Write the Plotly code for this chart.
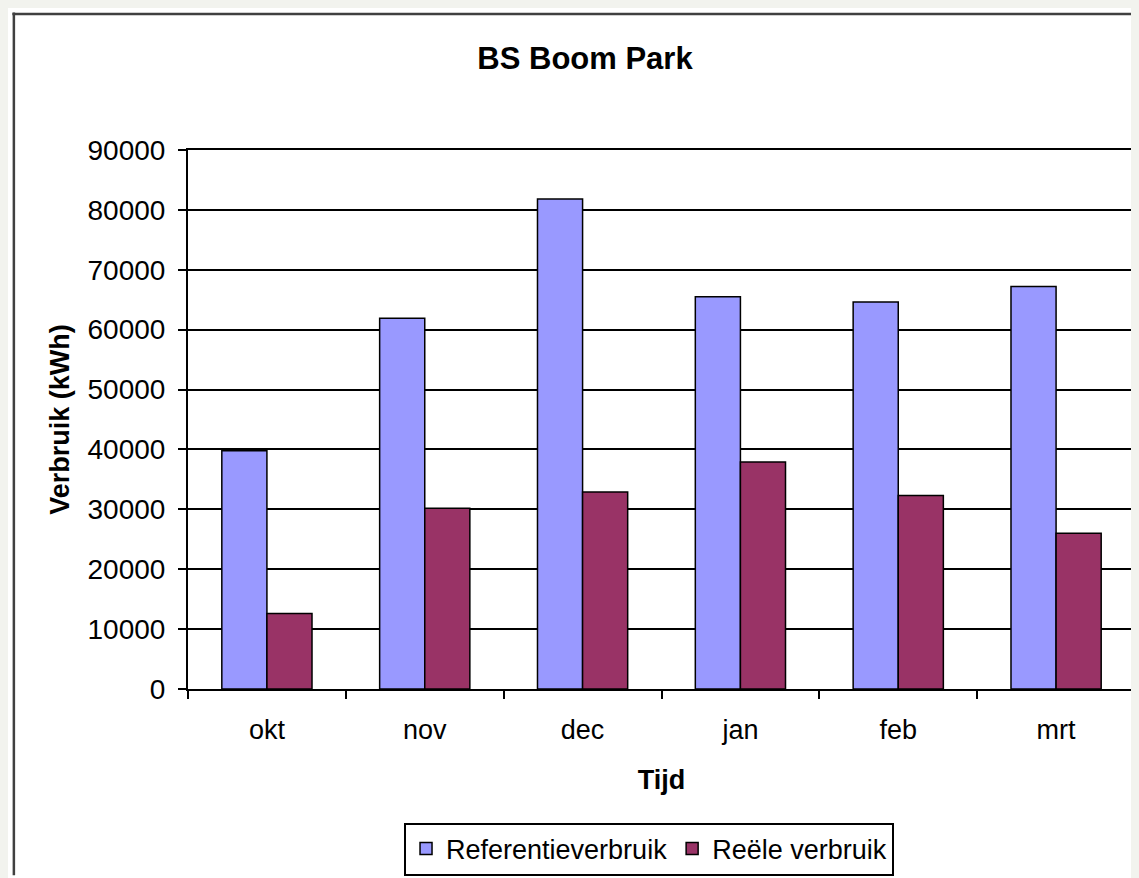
import plotly.graph_objects as go

# ---- data ----
months = ["okt", "nov", "dec", "jan", "feb", "mrt"]
referentie = [39800, 61900, 81800, 65500, 64600, 67200]
reeel = [12600, 30200, 32900, 37900, 32300, 26000]
series_names = ["Referentieverbruik", "Reële verbruik"]
y_ticks = [0, 10000, 20000, 30000, 40000, 50000, 60000, 70000, 80000, 90000]

# ---- layout geometry (page pixels; the page body adds an 8px margin) ----
OFF = 8
W, H = 1139 - OFF, 878 - OFF
L, R, T, B = 188 - OFF, 1137 - OFF, 150 - OFF, 691 - OFF
FONT = "Liberation Sans, Arial, sans-serif"


def px_x(page_px):
    return (page_px - OFF - L) / (R - L)


def px_y(page_py):
    return (B - (page_py - OFF)) / (B - T)


fig = go.Figure()
fig.add_trace(go.Bar(x=months, y=referentie, name=series_names[0],
                     marker=dict(color="#9999FF", line=dict(color="#000000", width=1.5))))
fig.add_trace(go.Bar(x=months, y=reeel, name=series_names[1],
                     marker=dict(color="#993366", line=dict(color="#000000", width=1.5))))

shapes = [
    # chart area frame
    dict(type="line", xref="paper", yref="paper", x0=px_x(12), x1=px_x(1139), y0=px_y(13.5), y1=px_y(13.5),
         line=dict(color="#404040", width=2.5)),
    dict(type="line", xref="paper", yref="paper", x0=px_x(13.5), x1=px_x(13.5), y0=px_y(12), y1=px_y(878),
         line=dict(color="#404040", width=2.5)),
]

fig.update_layout(
    width=W, height=H,
    margin=dict(l=L, r=W - R, t=T, b=H - B, pad=0),
    paper_bgcolor="#ffffff", plot_bgcolor="#ffffff",
    font=dict(family=FONT, size=27, color="#000000"),
    barmode="group", bargap=1.5 / 3.5, bargroupgap=0,
    title=dict(text="<b>BS Boom Park</b>", x=(585 - OFF) / W, xanchor="center",
               y=1 - (58 - OFF) / H, yanchor="middle", font=dict(size=31, family=FONT)),
    showlegend=True,
    legend=dict(orientation="h", x=px_x(650), xanchor="center", y=px_y(825), yanchor="top",
                bordercolor="#000000", borderwidth=2, bgcolor="#ffffff",
                font=dict(size=27, family=FONT), traceorder="normal"),
    shapes=shapes,
)

fig.update_xaxes(
    type="category", showline=True, linecolor="#000000", linewidth=2, mirror=True,
    ticks="outside", ticklen=8, tickwidth=2, tickcolor="#000000", tickson="boundaries",
    showgrid=False, ticklabelstandoff=16, tickfont=dict(size=27),
    title=dict(text="<b>Tijd</b>", font=dict(size=27), standoff=26),
)
fig.update_yaxes(
    range=[0, 90000], tickvals=y_ticks, tickformat="d",
    showline=True, linecolor="#000000", linewidth=2, mirror=True,
    ticks="outside", ticklen=8, tickwidth=2, tickcolor="#000000",
    showgrid=True, gridcolor="#000000", gridwidth=1.5, zeroline=False,
    ticklabelstandoff=7, tickfont=dict(size=28),
    title=dict(text="<b>Verbruik (kWh)</b>", font=dict(size=27), standoff=10),
)

fig.write_html("out.html", post_script="document.body.style.background='#f2f3ee';")
